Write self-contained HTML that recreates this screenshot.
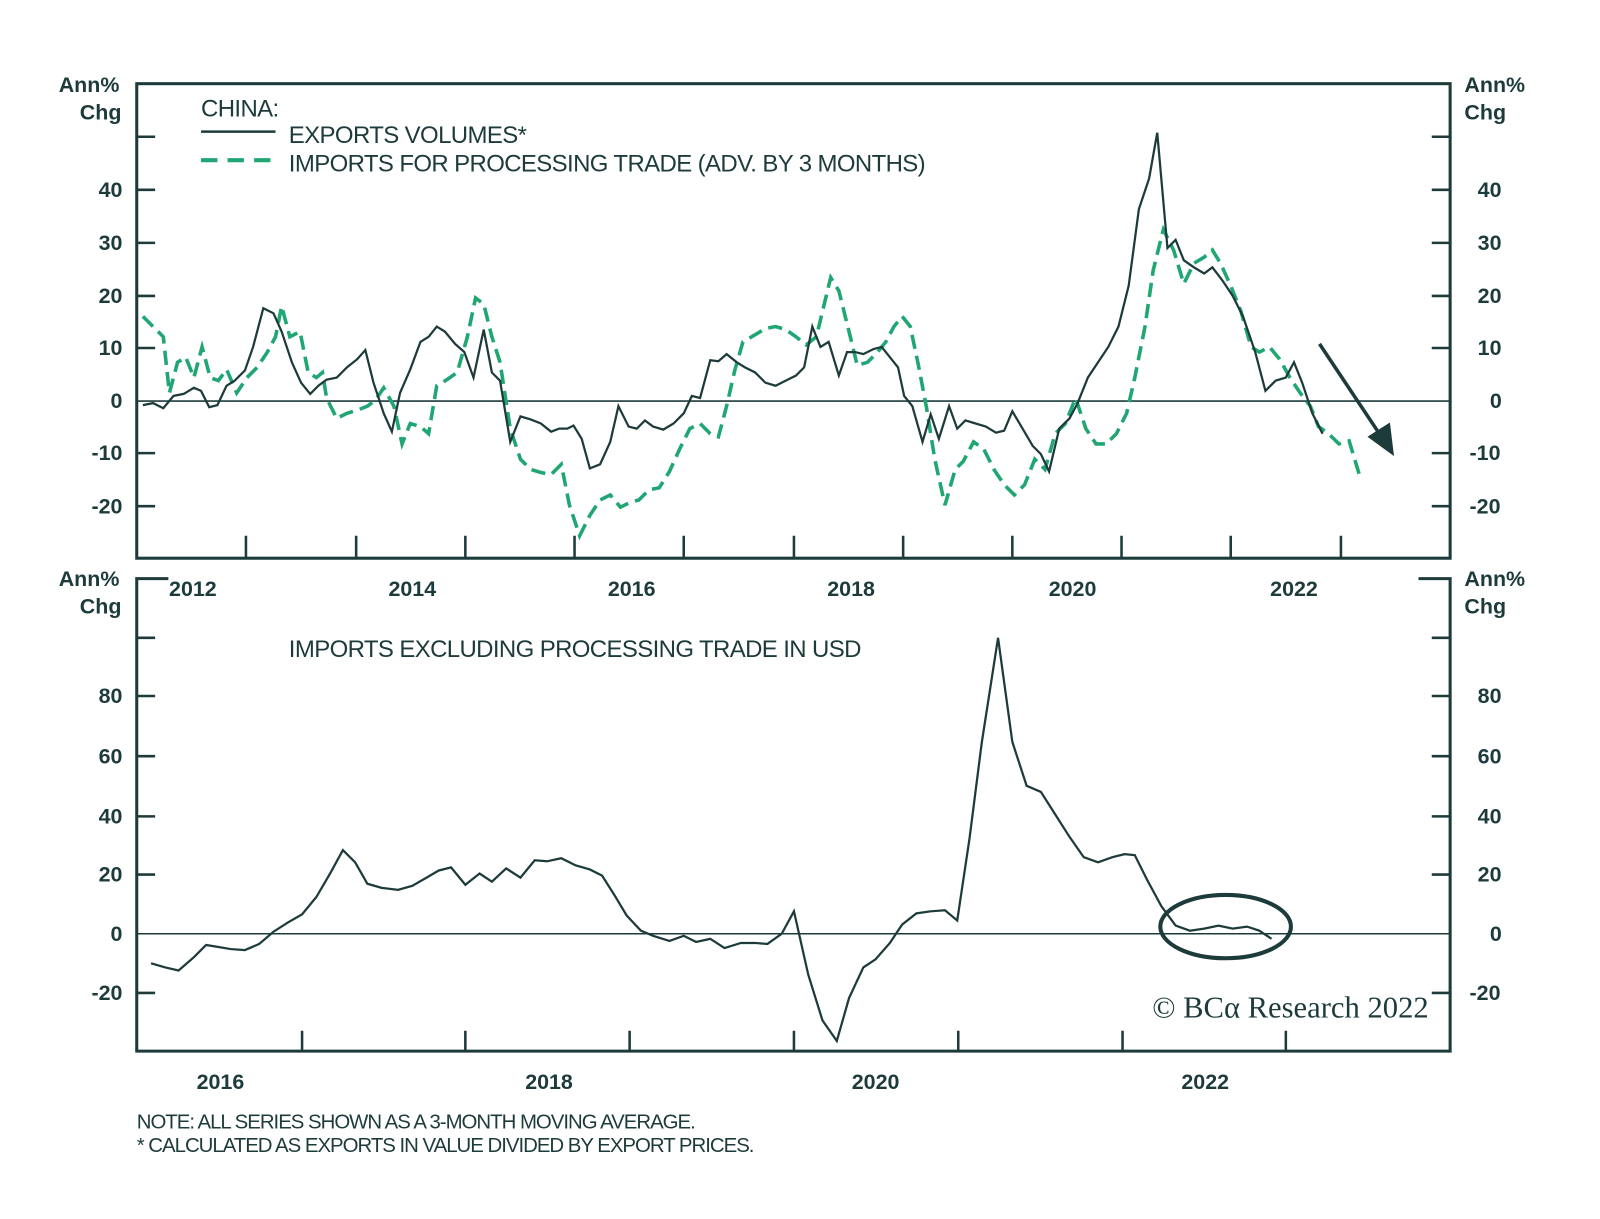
<!DOCTYPE html>
<html><head><meta charset="utf-8"><style>
html,body{margin:0;padding:0;background:#fff}
svg text{font-family:"Liberation Sans",sans-serif;fill:#1e3b3c}
.t{font-size:21px;font-weight:bold}
.l{font-size:23.5px;letter-spacing:-0.6px}
</style></head><body>
<svg width="1600" height="1214" viewBox="0 0 1600 1214" xmlns="http://www.w3.org/2000/svg">
<g transform="scale(1.0205)">
<g stroke="#1e3b3c" fill="none">
<rect x="134" y="82" width="1287" height="465" stroke-width="3"/>
<line x1="134" y1="393" x2="1421" y2="393" stroke-width="1.5"/>
<g stroke-width="2.5">
<path d="M134 134h18M134 186h18M134 238h18M134 290h18M134 341h18M134 444h18M134 496h18"/>
<path d="M1421 134h-18M1421 186h-18M1421 238h-18M1421 290h-18M1421 341h-18M1421 444h-18M1421 496h-18"/>
<path d="M241 547v-22M349 547v-22M456 547v-22M563 547v-22M670 547v-22M778 547v-22M885 547v-22M992 547v-22M1099 547v-22M1206 547v-22M1314 547v-22"/>
</g>
<path d="M165 567H134V1030H1421V567H1390" stroke-width="3"/>
<line x1="134" y1="915" x2="1421" y2="915" stroke-width="1.5"/>
<g stroke-width="2.5">
<path d="M134 625h18M134 682h18M134 741h18M134 800h18M134 857h18M134 973h18"/>
<path d="M1421 625h-18M1421 682h-18M1421 741h-18M1421 800h-18M1421 857h-18M1421 973h-18"/>
<path d="M296 1030v-20M456 1030v-20M617 1030v-20M778 1030v-20M939 1030v-20M1100 1030v-20M1260 1030v-20"/>
</g>
<line x1="197" y1="129" x2="270" y2="129" stroke-width="2.5"/>
<line x1="197" y1="157" x2="270" y2="157" stroke="#1fa673" stroke-width="4" stroke-dasharray="16,10"/>
<polyline stroke="#1fa673" stroke-width="3.5" stroke-dasharray="14,7" points="140,310 150,320 160,330 166,385 174,355 182,350 190,370 198,340 206,370 214,373 222,362 232,385 242,370 252,360 262,345 270,330 276,300 284,330 294,325 302,365 310,370 316,365 320,390 330,410 340,405 350,402 360,398 368,392 376,380 386,398 394,435 402,415 412,418 420,425 428,378 438,372 448,365 458,330 466,292 474,298 482,330 490,355 500,420 510,450 520,460 530,463 540,465 550,455 558,495 568,525 578,505 588,490 598,485 608,497 618,492 626,490 636,480 646,478 656,462 666,440 676,420 686,415 696,425 704,428 712,398 720,363 728,335 740,328 750,322 760,320 770,323 780,330 790,338 800,330 806,305 814,272 822,285 832,325 840,358 850,355 860,345 868,335 876,320 884,310 892,320 900,358 908,400 916,450 926,495 936,460 944,452 954,433 964,440 974,460 984,475 994,485 1004,475 1014,450 1024,460 1034,425 1044,415 1054,390 1064,420 1074,435 1084,435 1094,425 1104,405 1112,370 1122,320 1130,265 1140,225 1150,245 1160,278 1170,258 1180,252 1188,245 1196,258 1206,280 1216,305 1226,340 1234,345 1244,340 1254,352 1264,370 1274,385 1284,398 1292,418 1302,425 1312,435 1322,432 1332,465"/>
<polyline stroke-width="2.2" points="140,397 150,395 160,400 170,388 180,386 190,380 197,383 205,399 213,397 222,378 230,373 240,363 248,340 258,302 268,307 276,325 286,355 295,375 304,386 312,378 320,372 330,370 340,360 350,352 358,343 366,375 376,405 384,423 392,385 402,362 412,335 420,330 428,320 436,325 446,337 455,345 464,370 474,323 482,365 490,373 500,433 510,408 520,411 530,415 540,423 548,420 556,420 562,417 570,430 578,459 588,455 598,433 606,398 616,418 624,420 632,412 640,418 650,421 660,415 670,405 678,388 686,390 696,353 704,354 712,347 722,355 730,360 740,365 750,375 760,378 770,373 780,368 788,360 796,320 804,340 812,335 822,368 830,345 838,345 846,347 856,342 864,340 872,350 880,360 886,388 894,398 904,433 912,406 920,430 930,398 938,420 946,412 956,415 966,418 976,424 984,422 992,403 1002,420 1012,437 1020,445 1028,462 1038,420 1048,410 1056,395 1066,370 1076,355 1086,340 1096,320 1106,280 1116,205 1126,175 1134,130 1144,243 1152,235 1160,255 1170,262 1180,268 1188,262 1198,275 1208,290 1218,310 1230,345 1240,383 1250,373 1260,370 1268,355 1276,375 1286,405 1296,425"/>
<line x1="1293" y1="337" x2="1355" y2="430" stroke-width="3.5"/>
<polygon points="1366,447 1340,428 1362,414" fill="#1e3b3c" stroke="none"/>
<polyline stroke-width="2.2" points="148,944 162,948 175,951 190,938 202,926 214,928 226,930 240,931 254,925 268,913 282,904 296,896 310,879 324,855 336,833 348,845 360,866 374,870 390,872 404,868 418,860 430,853 442,850 456,867 470,856 482,864 496,851 510,860 524,843 536,844 550,841 564,848 578,852 590,858 602,877 614,897 628,912 640,917 656,922 670,917 682,923 696,920 710,929 726,924 740,924 752,925 766,915 778,893 792,955 806,1000 820,1020 832,978 846,948 858,940 872,924 884,906 898,895 912,893 926,892 938,902 950,822 962,728 978,625 992,727 1006,770 1020,776 1034,798 1048,820 1062,840 1076,845 1090,840 1102,837 1112,838 1124,862 1138,888 1152,907 1166,912 1180,910 1194,907 1208,910 1222,908 1234,912 1246,920"/>
<ellipse cx="1201" cy="908" rx="64" ry="31" stroke-width="4"/>
</g>
<g class="t">
<text x="117" y="90" text-anchor="end">Ann%</text><text x="119" y="117" text-anchor="end">Chg</text>
<text x="1435" y="90">Ann%</text><text x="1435" y="117">Chg</text>
<text x="117" y="574" text-anchor="end">Ann%</text><text x="119" y="601" text-anchor="end">Chg</text>
<text x="1435" y="574">Ann%</text><text x="1435" y="601">Chg</text>
</g>
<g class="t" text-anchor="end">
<text x="120" y="193">40</text><text x="120" y="245">30</text><text x="120" y="297">20</text><text x="120" y="348">10</text><text x="120" y="400">0</text><text x="120" y="451">-10</text><text x="120" y="503">-20</text>
<text x="120" y="689">80</text><text x="120" y="748">60</text><text x="120" y="807">40</text><text x="120" y="864">20</text><text x="120" y="922">0</text><text x="120" y="980">-20</text>
</g>
<g class="t">
<text x="1448" y="193">40</text><text x="1448" y="245">30</text><text x="1448" y="297">20</text><text x="1448" y="348">10</text><text x="1460" y="400">0</text><text x="1440" y="451">-10</text><text x="1440" y="503">-20</text>
<text x="1448" y="689">80</text><text x="1448" y="748">60</text><text x="1448" y="807">40</text><text x="1448" y="864">20</text><text x="1460" y="922">0</text><text x="1440" y="980">-20</text>
</g>
<g class="t" text-anchor="middle">
<text x="189" y="584">2012</text><text x="404" y="584">2014</text><text x="619" y="584">2016</text><text x="834" y="584">2018</text><text x="1051" y="584">2020</text><text x="1268" y="584">2022</text>
<text x="216" y="1067">2016</text><text x="538" y="1067">2018</text><text x="858" y="1067">2020</text><text x="1181" y="1067">2022</text>
</g>
<g class="l">
<text x="197" y="114">CHINA:</text>
<text x="283" y="140">EXPORTS VOLUMES*</text>
<text x="283" y="168">IMPORTS FOR PROCESSING TRADE (ADV. BY 3 MONTHS)</text>
<text x="283" y="644">IMPORTS EXCLUDING PROCESSING TRADE IN USD</text>
</g>
<text x="134" y="1106" style="font-size:20px;letter-spacing:-1px">NOTE: ALL SERIES SHOWN AS A 3-MONTH MOVING AVERAGE.</text>
<text x="134" y="1129" style="font-size:20px;letter-spacing:-1px">* CALCULATED AS EXPORTS IN VALUE DIVIDED BY EXPORT PRICES.</text>
<text x="1400" y="997" text-anchor="end" style="font-family:'Liberation Serif',serif;font-size:30px">© BCα Research 2022</text>
</g>
</svg>
</body></html>
